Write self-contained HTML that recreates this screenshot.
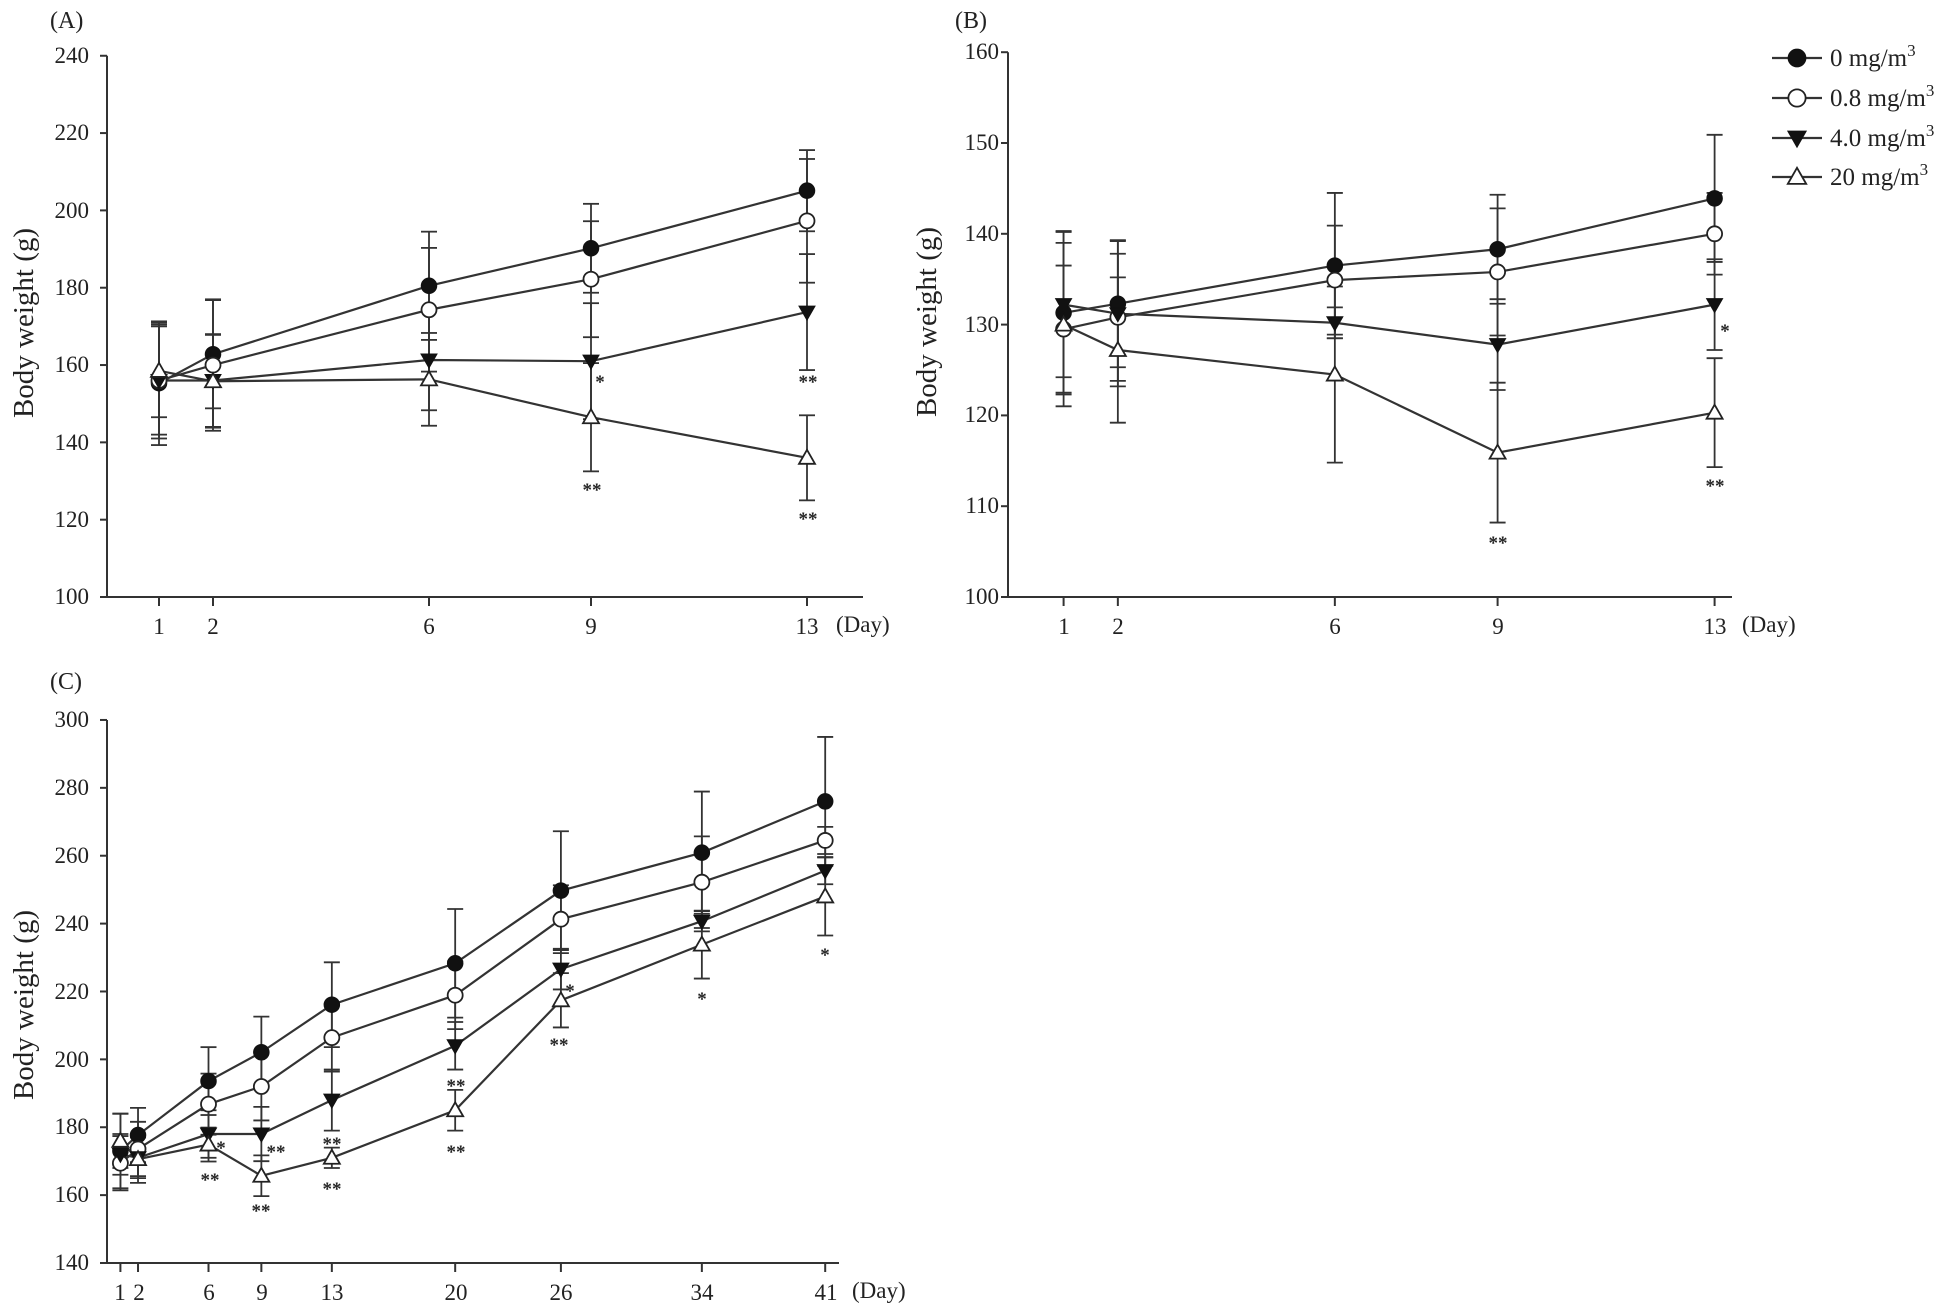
<!DOCTYPE html>
<html><head><meta charset="utf-8"><style>
html,body{margin:0;padding:0;background:#fff}
svg{display:block}
text{font-family:"Liberation Serif",serif;fill:#222}
.t{font-size:23px}
.yl{font-size:29px}
.pl{font-size:24px}
.st{font-size:19px;fill:#555;font-weight:bold}
.lg{font-size:25px}
</style></head><body>
<svg id="s" width="1946" height="1308" viewBox="0 0 1946 1308" xmlns="http://www.w3.org/2000/svg">
<g stroke="#333" stroke-width="2" fill="none" id="axes"></g>
<g id="data"></g>
<!-- Panel A text -->
<text class="pl" x="50" y="28">(A)</text>
<text class="yl" transform="translate(33,323) rotate(-90)" text-anchor="middle">Body weight (g)</text>
<g class="t" text-anchor="end">
<text x="89" y="63">240</text><text x="89" y="140">220</text><text x="89" y="218">200</text><text x="89" y="295">180</text><text x="89" y="372">160</text><text x="89" y="450">140</text><text x="89" y="527">120</text><text x="89" y="604">100</text>
</g>
<g class="t" text-anchor="middle">
<text x="159" y="634">1</text><text x="213" y="634">2</text><text x="429" y="634">6</text><text x="591" y="634">9</text><text x="807" y="634">13</text>
</g>
<text class="t" x="836" y="632">(Day)</text>
<g class="st" text-anchor="middle">
<text x="600" y="388">*</text><text x="592" y="496">**</text><text x="808" y="388">**</text><text x="808" y="525">**</text>
</g>
<!-- Panel B text -->
<text class="pl" x="955" y="28">(B)</text>
<text class="yl" transform="translate(936,322) rotate(-90)" text-anchor="middle">Body weight (g)</text>
<g class="t" text-anchor="end">
<text x="999" y="59">160</text><text x="999" y="150">150</text><text x="999" y="241">140</text><text x="999" y="332">130</text><text x="999" y="422">120</text><text x="999" y="513">110</text><text x="999" y="604">100</text>
</g>
<g class="t" text-anchor="middle">
<text x="1064" y="634">1</text><text x="1118" y="634">2</text><text x="1335" y="634">6</text><text x="1498" y="634">9</text><text x="1715" y="634">13</text>
</g>
<text class="t" x="1742" y="632">(Day)</text>
<g class="st" text-anchor="middle">
<text x="1498" y="549">**</text><text x="1715" y="492">**</text><text x="1725" y="337">*</text>
</g>
<!-- Legend -->
<g class="lg">
<text x="1830" y="66">0 mg/m<tspan dy="-10" font-size="17">3</tspan></text>
<text x="1830" y="106">0.8 mg/m<tspan dy="-10" font-size="17">3</tspan></text>
<text x="1830" y="146">4.0 mg/m<tspan dy="-10" font-size="17">3</tspan></text>
<text x="1830" y="185">20 mg/m<tspan dy="-10" font-size="17">3</tspan></text>
</g>
<!-- Panel C text -->
<text class="pl" x="50" y="689">(C)</text>
<text class="yl" transform="translate(33,1005) rotate(-90)" text-anchor="middle">Body weight (g)</text>
<g class="t" text-anchor="end">
<text x="89" y="727">300</text><text x="89" y="795">280</text><text x="89" y="863">260</text><text x="89" y="931">240</text><text x="89" y="999">220</text><text x="89" y="1067">200</text><text x="89" y="1134">180</text><text x="89" y="1202">160</text><text x="89" y="1270">140</text>
</g>
<g class="t" text-anchor="middle">
<text x="120" y="1300">1</text><text x="139" y="1300">2</text><text x="209" y="1300">6</text><text x="262" y="1300">9</text><text x="332" y="1300">13</text><text x="456" y="1300">20</text><text x="561" y="1300">26</text><text x="702" y="1300">34</text><text x="826" y="1300">41</text>
</g>
<text class="t" x="852" y="1298">(Day)</text>
<g class="st" text-anchor="middle">
<text x="221" y="1154">*</text><text x="210" y="1186">**</text>
<text x="276" y="1158">**</text><text x="261" y="1217">**</text>
<text x="332" y="1150">**</text><text x="332" y="1195">**</text>
<text x="456" y="1092">**</text><text x="456" y="1158">**</text>
<text x="570" y="997">*</text><text x="559" y="1051">**</text>
<text x="702" y="1005">*</text><text x="825" y="961">*</text>
</g>
</svg>
<script>
var NS="http://www.w3.org/2000/svg";
var ax=document.getElementById("axes"),dg=document.getElementById("data");
function el(p,t,a){var e=document.createElementNS(NS,t);for(var k in a)e.setAttribute(k,a[k]);p.appendChild(e);return e;}
function line(p,x1,y1,x2,y2,w){el(p,"line",{x1:x1,y1:y1,x2:x2,y2:y2,stroke:"#333","stroke-width":w||2});}
function marker(x,y,t,s){
 s=s||1;var r=7.5*s,a=8*s,b=6*s;
 if(t==0) el(dg,"circle",{cx:x,cy:y,r:r,fill:"#111",stroke:"#111","stroke-width":1.5});
 else if(t==1) el(dg,"circle",{cx:x,cy:y,r:r,fill:"#fff",stroke:"#222","stroke-width":1.8});
 else if(t==2) el(dg,"polygon",{points:(x-a)+","+(y-b)+" "+(x+a)+","+(y-b)+" "+x+","+(y+a),fill:"#111",stroke:"#111","stroke-width":1});
 else el(dg,"polygon",{points:(x-a)+","+(y+b)+" "+(x+a)+","+(y+b)+" "+x+","+(y-a),fill:"#fff",stroke:"#222","stroke-width":1.8});
}
function panel(P){
 line(ax,P.x0,P.y(P.vmax),P.x0,P.y(P.vmin));
 line(ax,P.x0,P.y(P.vmin),P.x1,P.y(P.vmin));
 P.yt.forEach(function(v){line(ax,P.x0-7,P.y(v),P.x0,P.y(v));});
 P.days.forEach(function(d){line(ax,P.X(d),P.y(P.vmin),P.X(d),P.y(P.vmin)+9);});
 var cw=8;
 P.series.forEach(function(s){
  s.forEach(function(pt,i){var x=P.X(P.days[i]);
   var yt=P.y(pt[0]+pt[1]),yb=P.y(pt[0]-pt[1]);
   line(dg,x,yt,x,yb,1.8);line(dg,x-cw,yt,x+cw,yt,1.8);line(dg,x-cw,yb,x+cw,yb,1.8);});
 });
 P.series.forEach(function(s){
  var pts=s.map(function(pt,i){return P.X(P.days[i])+","+P.y(pt[0]);}).join(" ");
  el(dg,"polyline",{points:pts,fill:"none",stroke:"#333","stroke-width":2.2});
 });
 P.series.forEach(function(s,k){s.forEach(function(pt,i){marker(P.X(P.days[i]),P.y(pt[0]),k);});});
}
panel({x0:107,x1:863,vmin:100,vmax:240,yt:[100,120,140,160,180,200,220,240],
 y:function(v){return 597-(v-100)*3.866;},X:function(d){return 159+(d-1)*54;},days:[1,2,6,9,13],
 series:[
 [[155.3,16],[162.8,14],[180.5,14],[190.2,11.5],[205.1,10.5]],
 [[156,15],[160,17],[174.3,16],[182.2,15],[197.3,16]],
 [[156,14],[156,12],[161.3,13],[161,15],[173.7,15]],
 [[158.5,12],[155.8,12],[156.3,12],[146.5,14],[136,11]]]});
panel({x0:1008,x1:1732,vmin:100,vmax:160,yt:[100,110,120,130,140,150,160],
 y:function(v){return 597-(v-100)*9.08;},X:function(d){return 1063.6+(d-1)*54.25;},days:[1,2,6,9,13],
 series:[
 [[131.3,9],[132.3,7],[136.5,8],[138.3,6],[143.9,7]],
 [[129.5,7],[130.8,7],[134.9,6],[135.8,7],[140,4.5]],
 [[132.2,8],[131.2,8],[130.2,1.7],[127.8,5],[132.2,5]],
 [[130,9],[127.2,8],[124.5,9.7],[115.9,7.7],[120.3,6]]]});
panel({x0:107,x1:839,vmin:140,vmax:300,yt:[140,160,180,200,220,240,260,280,300],
 y:function(v){return 1263-(v-140)*3.394;},X:function(d){return 120.4+(d-1)*17.62;},days:[1,2,6,9,13,20,26,34,41],
 series:[
 [[173,11],[177.7,8],[193.6,10],[202.1,10.5],[216.1,12.5],[228.3,16],[249.7,17.5],[260.9,18],[276,19]],
 [[169.4,8],[173.6,8],[186.8,9],[192,10],[206.4,10],[218.9,10],[241.3,10],[252.2,13.5],[264.5,4]],
 [[172,6],[171,6],[178,7],[178,8],[188,9],[204,7],[226.6,6],[240.7,3],[255.6,4]],
 [[176,8],[170.6,7],[174.9,5],[165.7,6],[171,3],[185,6],[217.4,8],[233.8,10],[248,11.5]]]});
[58,98,138,177].forEach(function(y,k){line(dg,1772,y,1822,y,2.2);marker(1797,y,k,1.15);});
</script>
</body></html>
